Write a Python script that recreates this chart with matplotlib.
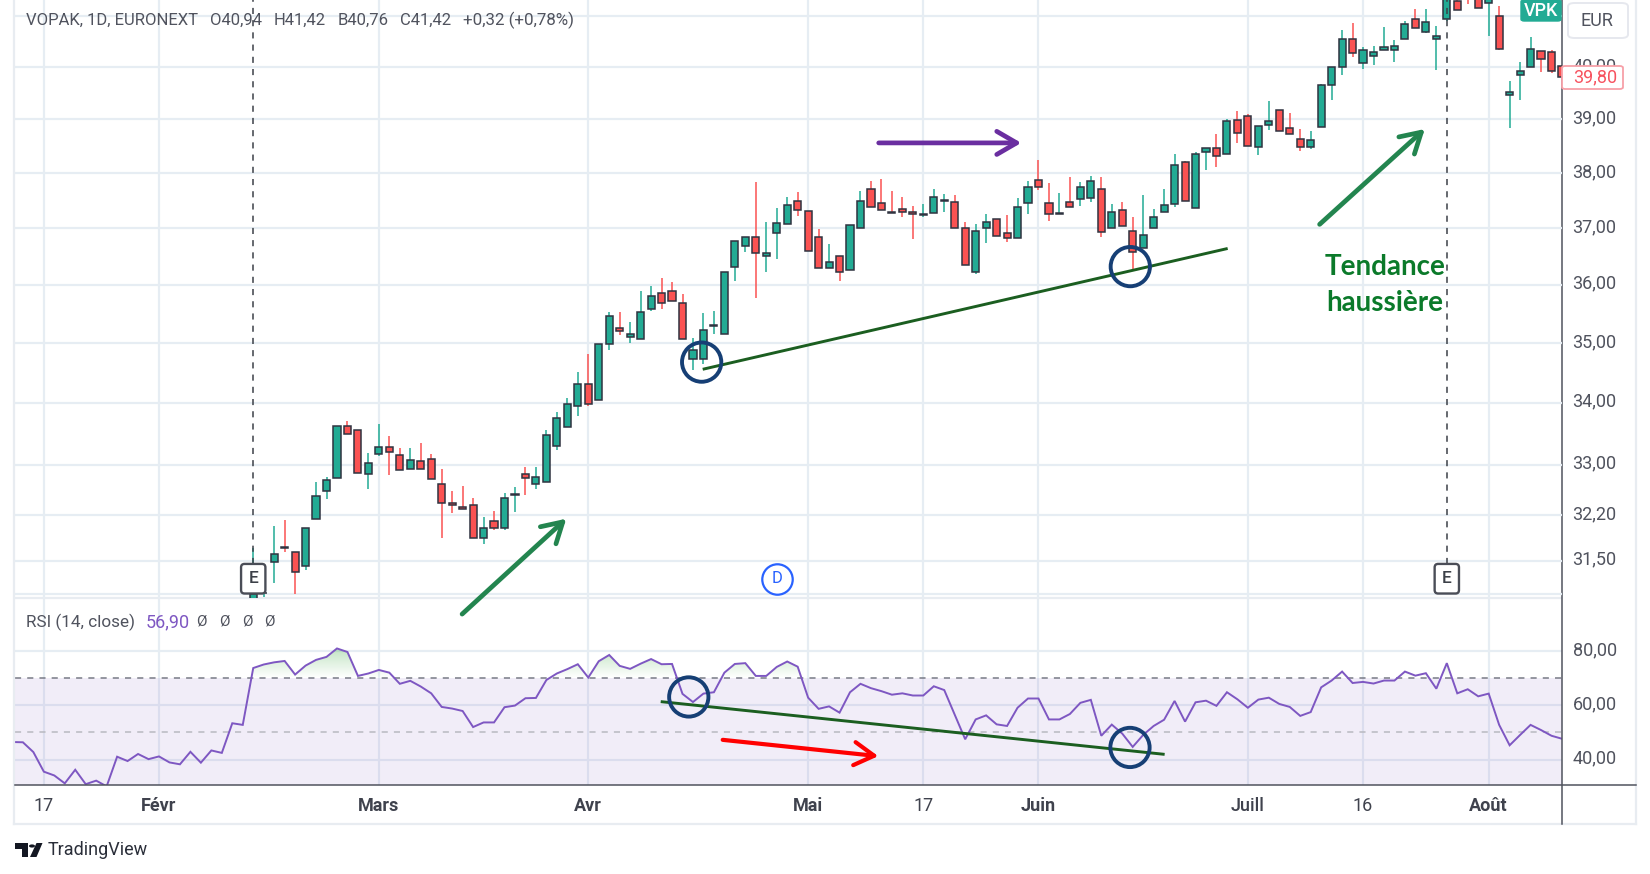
import numpy as np
import matplotlib
matplotlib.use("Agg")
import matplotlib.pyplot as plt
from matplotlib.lines import Line2D
from matplotlib.patches import Polygon, Circle, FancyBboxPatch
from matplotlib.path import Path
from matplotlib.colors import LinearSegmentedColormap
from matplotlib.ticker import NullLocator

plt.rcParams['font.family'] = ['Roboto', 'DejaVu Sans']

# ---- data -----------------------------------------------------------------
first_bar = 9
opens = [30.85,31.01,31.49,31.72,31.63,31.42,32.14,32.59,32.79,33.62,33.56,32.86,33.17,33.29,33.16,32.94,33.06,33.10,32.70,32.39,
         32.34,32.36,31.85,32.11,32.00,32.52,32.85,32.70,32.72,33.30,33.61,33.95,34.32,34.05,34.99,35.25,35.11,35.07,35.58,35.86,
         35.90,35.68,34.73,34.73,35.29,35.15,36.32,36.69,36.85,36.51,36.92,37.08,37.50,37.31,36.84,36.30,36.50,36.26,37.00,37.71,
         37.46,37.29,37.35,37.30,37.24,37.28,37.49,37.48,37.00,36.23,37.00,37.17,36.91,36.82,37.46,37.87,37.46,37.25,37.47,37.53,
         37.55,37.71,37.00,37.32,36.96,36.65,37.00,37.30,37.44,38.21,37.37,38.39,38.46,38.36,38.99,39.07,38.49,38.90,39.17,38.83,
         38.64,38.49,38.85,39.65,40.00,40.55,40.08,40.22,40.33,40.33,40.55,40.95,40.69,40.55,40.94,41.30,41.50,41.60,41.27,41.00,
         39.47,39.85,40.00,40.31,40.29,40.03]
highs = [31.70,31.03,32.04,32.13,31.63,32.00,32.73,32.80,33.62,33.71,33.56,33.19,33.65,33.46,33.27,33.27,33.35,33.18,32.94,32.58,
         32.67,32.47,32.18,32.27,32.56,32.65,32.96,32.96,33.56,33.85,34.08,34.52,34.81,34.98,35.53,35.53,35.36,35.89,35.98,36.12,
         36.05,35.85,35.08,35.51,35.55,36.23,36.78,36.84,37.84,37.11,37.36,37.57,37.65,37.31,36.99,36.72,36.50,37.06,37.67,37.86,
         37.90,37.67,37.56,37.40,37.44,37.71,37.62,37.60,37.11,37.07,37.25,37.17,37.24,37.54,37.85,38.25,37.82,37.63,37.92,37.84,
         37.95,37.92,37.44,37.47,37.20,37.60,37.35,37.71,38.36,38.23,38.39,38.46,38.72,39.00,39.16,39.10,38.87,39.35,39.17,39.12,
         38.82,38.79,39.67,40.00,40.72,40.87,40.40,40.41,40.78,40.53,40.91,41.14,41.14,40.81,41.42,41.50,41.60,41.70,41.50,41.20,
         39.74,40.10,40.58,40.31,40.33,40.05]
lows = [30.85,30.95,31.17,31.63,31.00,31.36,32.14,32.46,32.79,33.50,32.87,32.62,33.14,32.84,32.92,32.94,32.94,32.77,31.85,32.24,
        32.30,31.85,31.76,31.98,31.98,32.26,32.52,32.62,32.72,33.24,33.61,33.79,33.95,34.05,34.88,35.13,35.01,35.07,35.55,35.58,
        35.72,35.07,34.55,34.65,35.15,35.15,36.06,36.57,35.77,36.23,36.45,37.08,37.22,36.60,36.30,36.30,36.07,36.26,37.00,37.39,
        37.33,37.27,37.20,36.80,37.20,37.28,37.30,37.00,36.35,36.19,36.73,36.86,36.75,36.82,37.26,37.69,37.13,37.25,37.39,37.40,
        37.47,36.85,37.00,37.04,36.24,36.65,37.00,37.30,37.38,37.50,37.37,38.05,38.11,38.36,38.55,38.50,38.33,38.81,38.79,38.72,
        38.40,38.44,38.85,39.36,39.84,40.20,39.96,40.04,40.33,40.10,40.55,40.77,40.66,39.95,40.90,41.12,41.25,41.17,40.60,40.33,
        38.84,39.36,40.00,39.91,39.88,39.78]
closes = [31.00,31.02,31.60,31.70,31.33,32.00,32.50,32.75,33.62,33.50,32.87,33.03,33.29,33.21,32.92,33.08,32.94,32.77,32.39,32.36,
          32.30,31.85,32.00,32.00,32.48,32.54,32.79,32.81,33.48,33.76,33.98,34.32,33.98,34.98,35.46,35.20,35.15,35.53,35.80,35.69,
          35.72,35.07,34.88,35.22,35.31,36.23,36.78,36.84,36.56,36.56,37.09,37.41,37.33,36.60,36.30,36.40,36.22,37.06,37.50,37.39,
          37.33,37.27,37.30,37.25,37.26,37.57,37.51,37.00,36.35,36.96,37.11,36.86,36.82,37.39,37.74,37.74,37.25,37.27,37.39,37.74,
          37.85,36.94,37.30,37.04,36.58,36.88,37.20,37.41,38.15,37.50,38.36,38.46,38.31,38.97,38.75,38.50,38.87,38.97,38.79,38.72,
          38.49,38.62,39.65,40.00,40.55,40.27,40.33,40.29,40.40,40.42,40.84,40.77,40.88,40.60,41.42,41.12,41.40,41.17,41.50,40.35,
          39.52,39.92,40.36,40.15,39.92,39.80]

first_rsi = -14
rsi = [46.5,46.4,42.8,35.6,34.2,31.3,36.3,31.0,32.3,30.2,41.1,39.5,42.1,40.2,41.2,39.0,38.3,42.9,38.9,43.4,
       42.5,53.4,52.8,73.7,75.0,75.8,76.3,71.3,74.6,76.7,77.8,80.9,79.6,70.8,71.7,73.0,72.0,67.9,69.0,66.9,
       64.4,59.4,58.8,57.9,52.0,53.7,53.7,59.3,59.9,62.6,62.7,69.3,71.7,73.3,75.1,70.2,76.2,78.5,74.5,73.4,
       75.3,77.0,75.1,75.2,64.2,61.2,64.3,64.8,72.0,75.2,75.5,70.8,70.8,74.1,76.1,74.2,62.8,58.7,59.6,57.3,
       64.8,67.9,66.3,65.2,63.9,64.4,63.6,63.6,67.0,65.6,56.6,47.5,54.8,56.3,53.0,52.4,59.1,62.5,62.5,54.8,
       54.8,56.8,60.9,62.0,48.8,52.9,49.6,44.7,49.1,52.4,54.7,61.6,54.0,61.1,61.7,59.8,64.8,62.2,59.1,62.1,
       62.8,60.5,59.4,56.1,57.5,66.6,69.1,72.4,68.2,68.6,68.0,69.1,69.1,72.4,70.9,71.8,66.1,75.5,64.4,65.9,
       63.3,64.3,52.8,45.3,49.1,52.8,50.9,48.8,47.7]

date_ticks = [-11, 0, 21, 41, 62, 73, 84, 104, 115, 127]
date_labels = ['17', 'Févr', 'Mars', 'Avr', 'Mai', '17', 'Juin', 'Juill', '16', 'Août']
date_weights = ['normal', 'bold', 'bold', 'bold', 'bold', 'normal', 'bold', 'medium', 'normal', 'bold']
price_ticks = [31, 31.5, 32.2, 33, 34, 35, 36, 37, 38, 39, 40, 41]
price_labels = ['', '31,50', '32,20', '33,00', '34,00', '35,00', '36,00', '37,00', '38,00', '39,00', '40,00', '']
rsi_ticks = [40, 60, 80]
rsi_labels = ['40,00', '60,00', '80,00']
earnings_bars = [9, 123]
dividend_bar = 59

support_i = [51.93, 102.07]
support_p = [34.56, 36.64]
rsi_trend_i = [47.92, 96.05]
rsi_trend_v = [61.35, 41.96]
price_circles_i = [51.83, 92.77]
price_circles_p = [34.68, 36.32]
rsi_circles_i = [50.6, 92.74]
rsi_circles_v = [63.07, 44.5]
price_arrows = [((28.95, 30.70), (38.9, 32.15), '#23854f'),
                ((68.74, 38.56), (82.36, 38.56), '#6a2ea0'),
                ((110.85, 37.07), (120.9, 38.82), '#23854f')]
rsi_arrow = ((53.84, 47.3), (68.7, 41.3), '#ff0000')

# ---- layout helpers --------------------------------------------------------
W, H = 1650, 874
fig = plt.figure(figsize=(W / 100, H / 100), dpi=100, facecolor='white')


def fx(x):
    return x / W


def fy(y):
    return 1 - y / H


L, R = 15, 1561.5
P_TOP, P_BOT, R_BOT = 0, 598, 784.5
GRID = '#e6edf3'
TXT = '#50535e'
GREEN = '#22ab94'
RED = '#fa5252'
DARK = '#2f3340'

ax = fig.add_axes([fx(L), fy(P_BOT), fx(R - L), (P_BOT - P_TOP) / H])
ax2 = fig.add_axes([fx(L), fy(R_BOT), fx(R - L), (R_BOT - P_BOT) / H])
ax.set_zorder(2)
ax.patch.set_alpha(0)
ax2.set_zorder(1)

xlim = ((L - 159) / 10.47, (R - 159) / 10.47)


def right_labels(axis, values, labels, lift):
    axis.set_yticks(values)
    axis.set_yticklabels([])
    axis.tick_params(axis='y', which='both', length=0)
    for v, s in zip(values, labels):
        if s:
            axis.annotate(s, xy=(1, v), xycoords=axis.get_yaxis_transform(), xytext=(8, lift),
                          textcoords='offset points', va='center', ha='left', fontsize=13, color=TXT,
                          annotation_clip=False, zorder=1)


# ---- price pane ------------------------------------------------------------
ax.set_yscale('log')
ax.set_xlim(*xlim)
ax.set_ylim(30.94, 41.32)
right_labels(ax, price_ticks, price_labels, 0.9)
ax.yaxis.set_minor_locator(NullLocator())
ax.set_xticks(date_ticks)
ax.set_xticklabels([])
ax.tick_params(axis='x', length=0)
ax.grid(True, color=GRID, lw=1.6, zorder=0)
ax.set_axisbelow(True)
for s in ax.spines.values():
    s.set_visible(False)

idx = np.arange(first_bar, first_bar + len(opens))
o, h, l, c = map(np.array, (opens, highs, lows, closes))
up = c >= o
ax.vlines(idx[up], l[up], h[up], color=GREEN, lw=1.1, zorder=3)
ax.vlines(idx[~up], l[~up], h[~up], color=RED, lw=1.1, zorder=3)
ax.bar(idx[up], (c - o)[up], bottom=o[up], width=0.68, color=GREEN, edgecolor=DARK, lw=1.1, zorder=4)
ax.bar(idx[~up], (c - o)[~up], bottom=o[~up], width=0.68, color=RED, edgecolor=DARK, lw=1.1, zorder=4)

for b in earnings_bars:
    ax.plot([b, b], [31.45, 41.32], color='#3c4048', lw=1.1, ls=(0, (4, 4)), zorder=5)
    ax.text(b, 31.23, 'E', ha='center', va='center', fontsize=12.5, color='#3c4048', fontweight='medium', zorder=7,
            bbox=dict(boxstyle='round,pad=0.42,rounding_size=0.2', fc='white', ec='#4a4d57', lw=1.7))
ax.scatter([dividend_bar], [31.23], s=480, facecolor='white', edgecolor='#2962ff', lw=1.6, zorder=7)
ax.text(dividend_bar, 31.23, 'D', ha='center', va='center', fontsize=12, color='#2962ff', zorder=8)

ax.plot(support_i, support_p, color='#1b5e20', lw=2.1, zorder=8, solid_capstyle='butt')
ax.scatter(price_circles_i, price_circles_p, s=800, facecolor='none', edgecolor='#163f75', lw=2.8, zorder=9)
for tail, tip, col in price_arrows:
    ax.annotate('', xy=tip, xytext=tail, annotation_clip=False, zorder=9,
                arrowprops=dict(arrowstyle='->,head_length=0.55,head_width=0.32', color=col, lw=3.4,
                                mutation_scale=26, shrinkA=0, shrinkB=0))

# ---- RSI pane --------------------------------------------------------------
rx = np.arange(first_rsi, first_rsi + len(rsi))
rv = np.array(rsi)
RSI_LIM = (30.88, 99.45)
ax2.set_xlim(*xlim)
ax2.set_ylim(*RSI_LIM)
right_labels(ax2, rsi_ticks, rsi_labels, 0.7)
ax2.set_xticks(date_ticks)
ax2.set_xticklabels(date_labels, fontsize=13, color='#3f424d')
for t, w in zip(ax2.get_xticklabels(), date_weights):
    t.set_fontweight(w)
ax2.tick_params(axis='x', length=0, pad=9)
ax2.grid(True, color=GRID, lw=1.6, zorder=0)
ax2.set_axisbelow(True)
for s in ax2.spines.values():
    s.set_visible(False)

ax2.axhspan(30, 70, color='#7e57c2', alpha=0.10, lw=0, zorder=1)
ax2.axhline(70, color='#787b86', lw=1.1, ls=(0, (4, 4)), zorder=2)
ax2.axhline(50, color='#b8b9c0', lw=1.1, ls=(0, (4, 4)), zorder=2)

cmap = LinearSegmentedColormap.from_list('g', [(0.3, 0.69, 0.31, 0.34), (0.3, 0.69, 0.31, 0.0)])
poly = ax2.fill_between(rx, 70, rv, where=rv >= 70, interpolate=True, color='none', lw=0)
grad = ax2.imshow(np.linspace(0, 1, 64).reshape(-1, 1), extent=(xlim[0], xlim[1], 70, 81), origin='upper',
                  aspect='auto', cmap=cmap, zorder=2)
grad.set_clip_path(Path.make_compound_path(*poly.get_paths()), transform=ax2.transData)
ax2.set_xlim(*xlim)
ax2.set_ylim(*RSI_LIM)

ax2.plot(rx, rv, color='#7e57c2', lw=1.4, zorder=3, solid_joinstyle='miter')
ax2.plot(rsi_trend_i, rsi_trend_v, color='#1b5e20', lw=2.1, zorder=8, solid_capstyle='butt')
ax2.scatter(rsi_circles_i, rsi_circles_v, s=800, facecolor='none', edgecolor='#163f75', lw=2.8, zorder=9, clip_on=False)
ax2.annotate('', xy=rsi_arrow[1], xytext=rsi_arrow[0], zorder=9,
             arrowprops=dict(arrowstyle='->,head_length=0.55,head_width=0.32', color=rsi_arrow[2], lw=3.0,
                             mutation_scale=26, shrinkA=0, shrinkB=0))

# ---- chrome ---------------------------------------------------------------
def fline(x0, y0, x1, y1, color, lw):
    fig.add_artist(Line2D([fx(x0), fx(x1)], [fy(y0), fy(y1)], color=color, lw=lw, zorder=2))


fline(14.5, 0, 14.5, 824, '#e8ecf1', 1.6)
fline(14.5, 824, 1636, 824, '#e8ecf1', 1.6)
fline(1636, 0, 1636, 824, '#e8ecf1', 1.6)
fline(L, 598, 1561, 598, '#e8ecf1', 1.6)
fline(L, 784.5, 1636, 784.5, '#50535e', 1.1)
fline(1561.5, 0, 1561.5, 824, '#50535e', 1.1)


def ftext(x, y, s, **kw):
    kw.setdefault('va', 'center')
    kw.setdefault('zorder', 6)
    return fig.text(fx(x), fy(y), s, **kw)


ftext(26, 20.5, 'VOPAK, 1D, EURONEXT', fontsize=12, color=TXT)
ftext(210, 20.5, 'O40,94', fontsize=12, color=TXT)
ftext(274, 20.5, 'H41,42', fontsize=12, color=TXT)
ftext(338, 20.5, 'B40,76', fontsize=12, color=TXT)
ftext(400, 20.5, 'C41,42', fontsize=12, color=TXT)
ftext(463, 20.5, '+0,32 (+0,78%)', fontsize=12.2, color=TXT)

ftext(26, 622, 'RSI (14, close)', fontsize=12.3, color=TXT)
ftext(146, 622, '56,90', fontsize=13, color='#7e57c2')
for xp in (201, 224, 247, 269):
    ftext(xp, 622, 'Ø', fontsize=11, color=TXT, ha='center')

ftext(1385, 267, 'Tendance', fontsize=20, color='#0b7a2a', family='Lato', fontweight='bold', ha='center')
ftext(1385, 303, 'haussière', fontsize=20, color='#0b7a2a', family='Lato', fontweight='bold', ha='center')

# VPK tag, currency box, last price box
fig.add_artist(FancyBboxPatch((fx(1521), fy(21)), fx(40), 21 / H, boxstyle='round,pad=0,rounding_size=0.002',
                              transform=fig.transFigure, fc=GREEN, ec=GREEN, zorder=5))
ftext(1541, 10.5, 'VPK', fontsize=13, color='white', ha='center', fontweight='medium')
fig.add_artist(FancyBboxPatch((fx(1568), fy(38)), fx(60), 35 / H, boxstyle='round,pad=0,rounding_size=0.004',
                              transform=fig.transFigure, fc='white', ec='#e6e8ee', lw=1.4, zorder=5))
ftext(1597, 20.5, 'EUR', fontsize=13, color=TXT, ha='center')
fig.add_artist(FancyBboxPatch((fx(1562), fy(89)), fx(61), 23 / H, boxstyle='round,pad=0,rounding_size=0.002',
                              transform=fig.transFigure, fc='white', ec='#f7a0a8', lw=1.3, zorder=5))
ftext(1595, 77, '39,80', fontsize=13, color='#f7525f', ha='center')

# TradingView mark and name
fig.add_artist(Polygon([(fx(15), fy(843)), (fx(28), fy(843)), (fx(28), fy(857)), (fx(22), fy(857)), (fx(22), fy(849)),
                        (fx(15), fy(849))], transform=fig.transFigure, fc='#131722', ec='none', zorder=6))
fig.add_artist(Circle((fx(32), fy(846)), 3.0 / W, transform=fig.transFigure, fc='#131722', ec='none', zorder=6))
fig.add_artist(Polygon([(fx(36.5), fy(843)), (fx(42.5), fy(843)), (fx(36.5), fy(857)), (fx(30), fy(857))],
                       transform=fig.transFigure, fc='#131722', ec='none', zorder=6))
ftext(47.5, 850, 'TradingView', fontsize=13, color='#2a2e39')

fig.savefig('out.png', dpi=100)
